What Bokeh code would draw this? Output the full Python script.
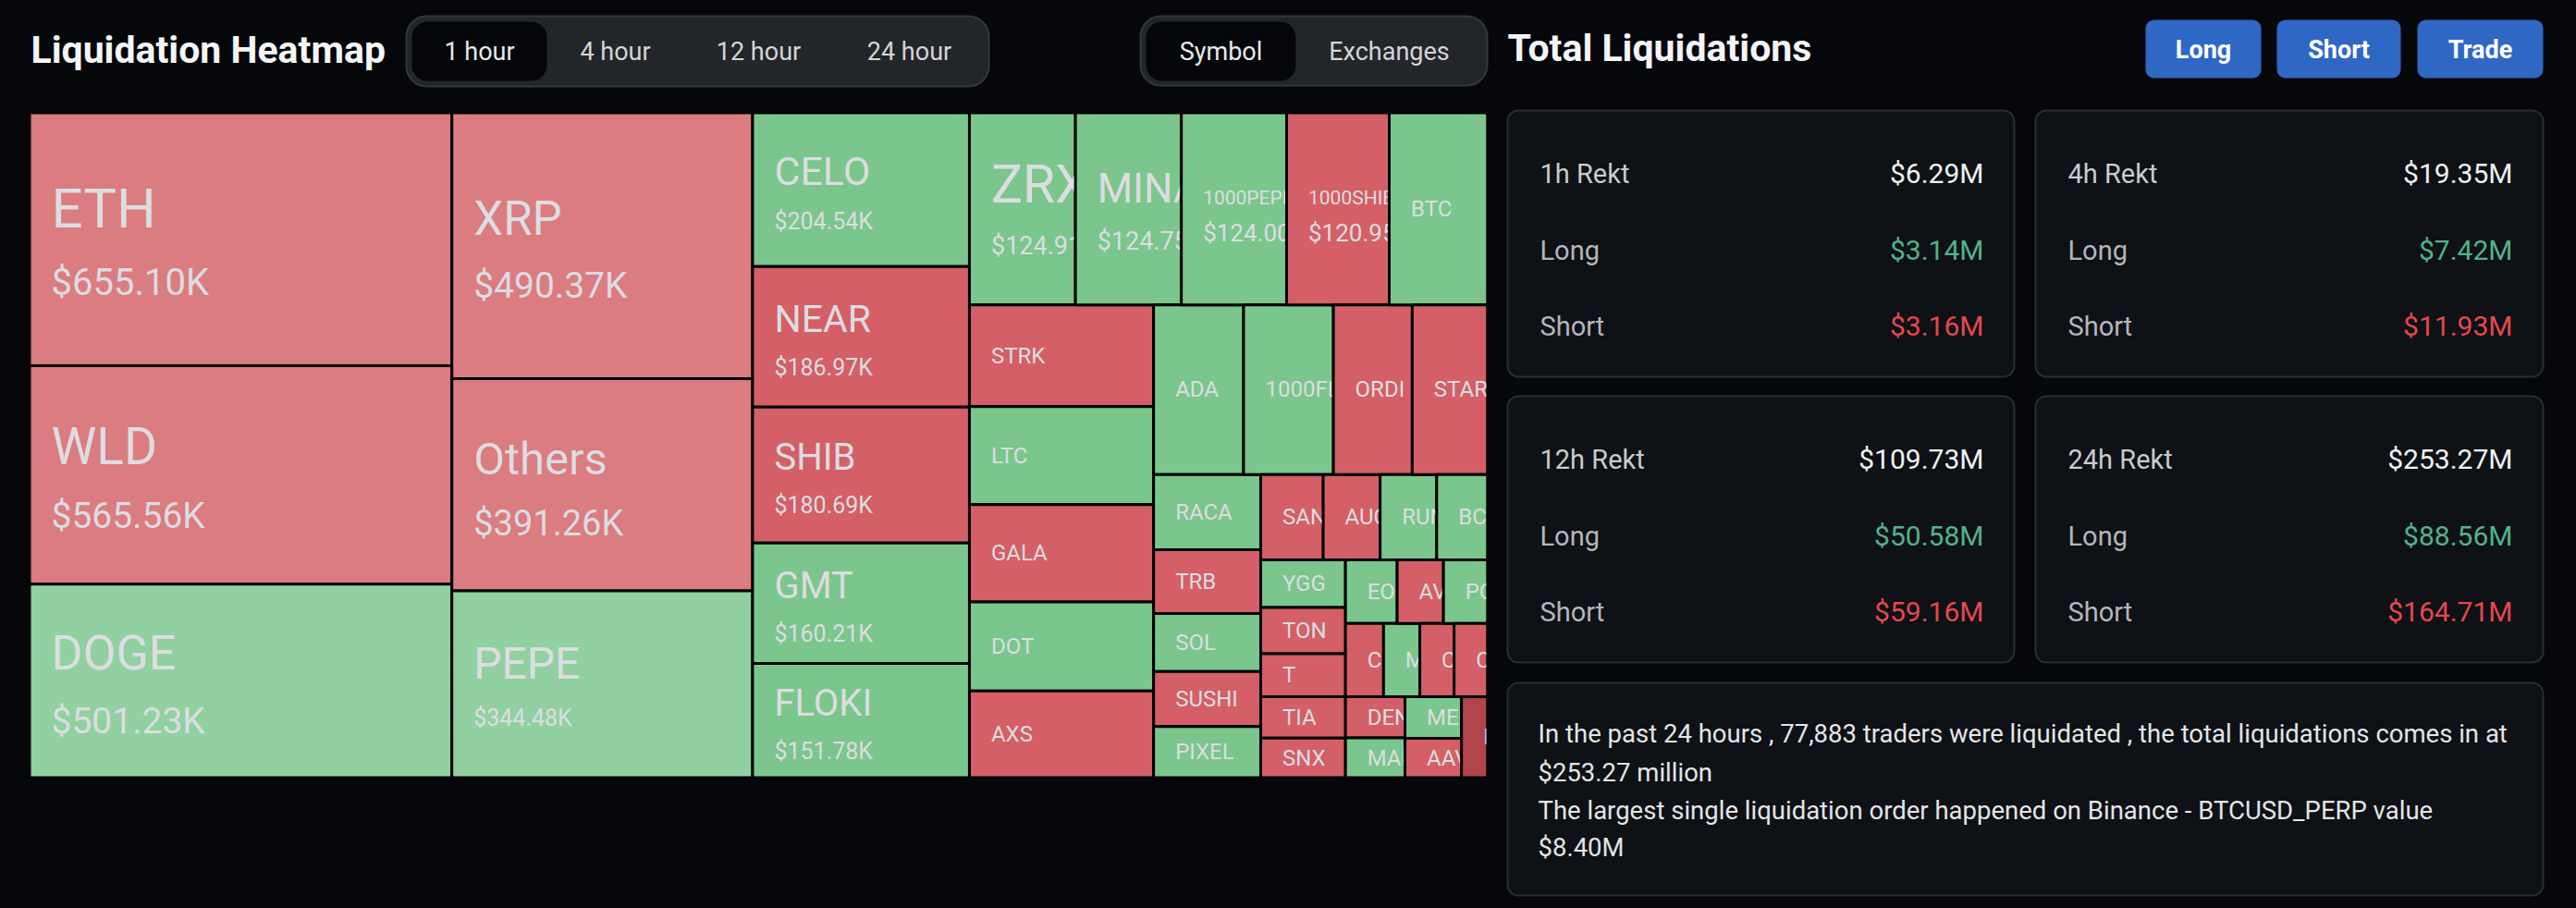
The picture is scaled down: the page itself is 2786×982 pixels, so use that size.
import math
from bokeh.plotting import figure
from bokeh.models import Range1d
from bokeh.embed import file_html
from bokeh.resources import INLINE
from bokeh.core.properties import value

# ---------------- data ----------------
symbols = ["ETH", "WLD", "DOGE", "XRP", "Others", "PEPE", "CELO", "NEAR", "SHIB", "GMT", "FLOKI",
           "ZRX", "MINA", "1000PEPE", "1000SHIB", "BTC", "STRK", "LTC", "GALA", "DOT", "AXS",
           "ADA", "1000FLOKI", "ORDI", "STARL", "RACA", "TRB", "SOL", "SUSHI", "PIXEL",
           "SAN", "AUCTION", "RUNE", "BCH", "YGG", "TON", "T", "TIA", "SNX",
           "EOS", "AVAX", "PORTAL", "COMP", "MKR", "CRV", "CFX", "DENT", "MANTA", "MEME", "AAVE", "ETC"]
liq_k = [655.10, 565.56, 501.23, 490.37, 391.26, 344.48, 204.54, 186.97, 180.69, 160.21, 151.78,
         124.91, 124.75, 124.00, 120.95, 116.0, 115.0, 110.5, 110.0, 100.5, 98.0,
         93.6, 93.4, 82.0, 78.5, 49.4, 42.0, 38.1, 36.1, 33.6,
         32.7, 29.8, 29.6, 26.7, 24.8, 24.0, 22.4, 21.5, 20.5,
         20.2, 18.1, 17.3, 17.1, 16.3, 15.4, 15.1, 15.0, 14.5, 14.4, 13.6, 13.0]
side = ["S", "S", "L", "S", "S", "L", "L", "S", "S", "L", "L",
        "L", "L", "L", "S", "L", "S", "L", "S", "L", "S",
        "L", "L", "S", "S", "L", "S", "L", "S", "L",
        "S", "S", "L", "L", "L", "S", "S", "S", "S",
        "L", "S", "L", "S", "L", "S", "S", "S", "L", "L", "S", "S"]

time_tabs = ["1 hour", "4 hour", "12 hour", "24 hour"]
view_tabs = ["Symbol", "Exchanges"]
buttons = ["Long", "Short", "Trade"]

card_titles = ["1h Rekt", "4h Rekt", "12h Rekt", "24h Rekt"]
total_m = [6.29, 19.35, 109.73, 253.27]
long_m = [3.14, 7.42, 50.58, 88.56]
short_m = [3.16, 11.93, 59.16, 164.71]

traders_24h = "77,883"
total_24h_m = 253.27
largest_exchange = "Binance"
largest_pair = "BTCUSD_PERP"
largest_m = 8.40

# ---------------- styles ----------------
BG = "#06070b"
GAP = "#020304"
RED, RED_L = "#d45f66", "#db7c81"
GRN, GRN_L = "#7bc68d", "#91d0a1"
HILITE = {"ETC": "#b0454b"}
CELL_TXT = "#dcdde1"
NAME_PX = {"ETH": 60, "WLD": 55, "DOGE": 52, "XRP": 51, "Others": 49, "PEPE": 48,
           "CELO": 43, "NEAR": 41, "SHIB": 40, "GMT": 40, "FLOKI": 40,
           "ZRX": 57, "MINA": 44, "1000PEPE": 21, "1000SHIB": 21}
VALUE_PX = {"ETH": 40, "WLD": 39, "DOGE": 39, "XRP": 39, "Others": 38,
            "ZRX": 27, "MINA": 27, "1000PEPE": 26, "1000SHIB": 26}
FONT = "Roboto"

p = figure(width=2770, height=966, x_range=Range1d(8, 2778), y_range=Range1d(8, 974),
           output_backend="svg", toolbar_location=None, x_axis_location=None, y_axis_location=None,
           min_border=0, background_fill_color=BG, border_fill_color=BG, outline_line_color=None)
p.xgrid.visible = False
p.ygrid.visible = False


def Y(y):
    return 982 - y


def box(x0, y0, x1, y1, fill, line=None, lw=0, r=0):
    p.quad(left=[x0], right=[x1], top=[Y(y0)], bottom=[Y(y1)], fill_color=fill,
           line_color=line, line_width=lw, border_radius=r)


def txt(x, yc, s, size, color, align="left", bold=False):
    # anchor placed so that the capital letters are centred on yc
    p.text(x=[x], y=[Y(yc)], text=[s], text_font=value(FONT),
           text_font_size=f"{size}px", text_color=color, text_align=align,
           text_baseline="alphabetic", text_font_style="bold" if bold else "normal")


def squarify(vals, x0, y0, x1, y1, ratio=(1 + math.sqrt(5)) / 2):
    n = len(vals)
    out = [None] * n
    total = sum(vals)
    i0 = 0
    while i0 < n:
        dx, dy = x1 - x0, y1 - y0
        i1 = i0
        s = vals[i1]
        i1 += 1
        mn = mx = s
        alpha = max(dy / dx, dx / dy) / (total * ratio)
        beta = s * s * alpha
        best = max(mx / beta, beta / mn)
        while i1 < n:
            v = vals[i1]
            s2 = s + v
            mn2, mx2 = min(mn, v), max(mx, v)
            beta = s2 * s2 * alpha
            r = max(mx2 / beta, beta / mn2)
            if r > best:
                break
            best, s, mn, mx = r, s2, mn2, mx2
            i1 += 1
        if dx < dy:
            h = dy * s / total
            x = x0
            for i in range(i0, i1):
                w = dx * vals[i] / s
                out[i] = (x, y0, x + w, y0 + h)
                x += w
            y0 += h
        else:
            w = dx * s / total
            y = y0
            for i in range(i0, i1):
                h = dy * vals[i] / s
                out[i] = (x0, y, x0 + w, y + h)
                y += h
            x0 += w
        total -= s
        i0 = i1
    return out


# ---------------- header left ----------------
txt(33, 53.3, "Liquidation Heatmap", 41, "#f4f5f7", bold=True)

box(439, 17, 1069, 93, "#22252a", "#34373c", 2, 22)
box(445, 23, 591, 87, "#050609", None, 0, 17)
for lab, cx, sel in zip(time_tabs, [518, 665, 820, 983], [True, False, False, False]):
    txt(cx, 55, lab, 27, "#e8e9eb" if sel else "#d4d5d8", align="center")

box(1233, 17, 1608, 92, "#22252a", "#34373c", 2, 22)
box(1239, 23, 1401, 87, "#050609", None, 0, 17)
for lab, cx, sel in zip(view_tabs, [1320, 1502], [True, False]):
    txt(cx, 55, lab, 27, "#e8e9eb" if sel else "#d4d5d8", align="center")

# ---------------- treemap ----------------
rects = squarify(liq_k, 31.5, 121.5, 1608.5, 840.5)
order = sorted(range(len(symbols)), key=lambda i: (round(rects[i][0], 1), rects[i][1]))
for i in order:
    x0, y0, x1, y1 = rects[i]
    sym = symbols[i]
    light = liq_k[i] > 300
    if sym in HILITE:
        col = HILITE[sym]
    elif side[i] == "S":
        col = RED_L if light else RED
    else:
        col = GRN_L if light else GRN
    box(x0, y0, x1, y1, col, GAP, 3)
    fn = NAME_PX.get(sym, 24)
    cy = (y0 + y1) / 2
    if liq_k[i] >= 120:
        fv = VALUE_PX.get(sym, 25)
        g = 0.8 * (fn + fv)
        c = cy + 7
        txt(x0 + 23.5, c - g / 2, sym, fn, CELL_TXT)
        txt(x0 + 23.5, c + g / 2, f"${liq_k[i]:.2f}K", fv, CELL_TXT)
    else:
        txt(x0 + 23.5, cy, sym, fn, CELL_TXT)

# mask label overflow to the right of the treemap
box(1607, 105, 2786, 982, BG)

# ---------------- right panel ----------------
txt(1630, 51.5, "Total Liquidations", 41, "#f4f5f7", bold=True)
for lab, (bx0, bx1) in zip(buttons, [(2320, 2445), (2462, 2596), (2614, 2750)]):
    box(bx0, 21, bx1, 84, "#2f67c4", None, 0, 9)
    txt((bx0 + bx1) / 2, 53, lab, 27, "#ffffff", align="center", bold=True)

card_boxes = [(1630, 119, 2178, 407), (2201, 119, 2750, 407),
              (1630, 428, 2178, 716), (2201, 428, 2750, 716)]
for k, (cx0, cy0, cx1, cy1) in enumerate(card_boxes):
    box(cx0, cy0, cx1, cy1, "#0e1116", "#2a2d33", 2, 12)
    lx, rx = cx0 + 35, cx1 - 33
    txt(lx, cy0 + 68, card_titles[k], 29, "#c9cbce")
    txt(rx, cy0 + 68, f"${total_m[k]:.2f}M", 30, "#f0f1f3", align="right")
    txt(lx, cy0 + 151, "Long", 29, "#b4b6ba")
    txt(rx, cy0 + 151, f"${long_m[k]:.2f}M", 30, "#52b28c", align="right")
    txt(lx, cy0 + 233, "Short", 29, "#b4b6ba")
    txt(rx, cy0 + 233, f"${short_m[k]:.2f}M", 30, "#e5484d", align="right")

box(1630, 738, 2750, 968, "#0e1116", "#2a2d33", 2, 12)
summary = [
    f"In the past 24 hours , {traders_24h} traders were liquidated , the total liquidations comes in at",
    f"${total_24h_m:.2f} million",
    f"The largest single liquidation order happened on {largest_exchange} - {largest_pair} value",
    f"${largest_m:.2f}M",
]
for line, yc in zip(summary, [793, 835, 876, 916]):
    txt(1663, yc, line, 27.5, "#e4e5e7")

html = file_html(p, INLINE, title="Liquidation Heatmap")
html = html.replace("</head>", "<style>body{background:%s;margin:8px;}</style></head>" % BG, 1)
open("out.html", "w").write(html)
